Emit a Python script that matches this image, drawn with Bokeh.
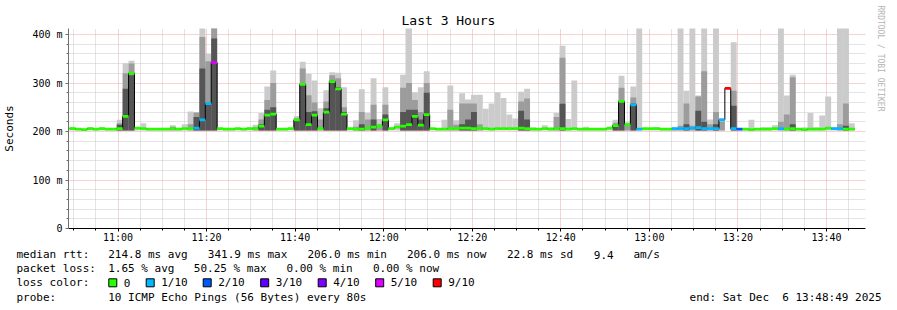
import math
from bokeh.plotting import figure
from bokeh.layouts import column
from bokeh.models import FixedTicker, Label, Range1d, Title
from bokeh.embed import file_html
from bokeh.resources import INLINE

# ---------------- data ----------------
window_start = "10:48:49"
window_end = "13:48:49"
first_sample = "10:49:03"
step_seconds = 80

median_ms = [
    206, 205, 204, 206, 205, 206, 205, 205, 206, 231,
    320, 207, 206, 205, 205, 205, 205, 206, 205, 206,
    206, 207, 224, 258, 342, 206, 205, 205, 206, 205,
    206, 206, 211, 234, 236, 205, 205, 206, 224, 297,
    214, 234, 206, 240, 303, 288, 236, 206, 205, 205,
    207, 209, 211, 224, 206, 209, 211, 214, 231, 213,
    235, 206, 205, 205, 206, 206, 207, 207, 206, 207,
    206, 205, 206, 206, 206, 206, 207, 206, 205, 205,
    206, 205, 206, 206, 205, 206, 205, 205, 205, 205,
    205, 207, 212, 262, 214, 255, 205, 206, 206, 206,
    205, 205, 206, 206, 206, 207, 208, 206, 206, 206,
    224, 289, 206, 205, 205, 204, 205, 205, 205, 206,
    206, 205, 206, 205, 204, 205, 205, 205, 207, 206,
    206, 205, 205,
]

loss_tenths = [
    0, 0, 0, 0, 0, 0, 0, 0, 0, 0,
    0, 0, 0, 0, 0, 0, 0, 0, 0, 0,
    0, 1, 1, 1, 5, 0, 0, 0, 0, 0,
    0, 0, 0, 0, 0, 0, 0, 0, 0, 0,
    0, 0, 0, 0, 0, 0, 0, 0, 0, 0,
    0, 0, 0, 0, 0, 0, 0, 0, 0, 0,
    0, 0, 0, 0, 0, 0, 0, 0, 0, 0,
    0, 0, 0, 0, 0, 0, 0, 0, 0, 0,
    0, 0, 0, 0, 0, 0, 0, 0, 0, 0,
    0, 0, 0, 0, 0, 1, 1, 0, 0, 0,
    0, 0, 1, 1, 1, 1, 1, 1, 1, 1,
    1, 9, 1, 2, 0, 0, 0, 0, 0, 0,
    1, 0, 0, 0, 0, 0, 0, 0, 0, 1,
    1, 0, 0,
]

# outer smoke (max ping), inner smoke, dense smoke; 0 = not visible
smoke_max_ms = [
    210, 207, 206, 209, 206, 209, 206, 206, 224, 341,
    346, 209, 217, 206, 206, 206, 206, 213, 206, 215,
    241, 239, 430, 360, 430, 207, 206, 206, 207, 206,
    209, 214, 238, 293, 326, 206, 206, 207, 232, 344,
    319, 305, 248, 285, 322, 321, 291, 207, 223, 287,
    238, 310, 226, 291, 209, 217, 317, 430, 281, 291,
    324, 207, 206, 224, 295, 223, 279, 266, 276, 276,
    247, 258, 281, 269, 235, 227, 282, 288, 209, 206,
    213, 209, 238, 377, 226, 305, 206, 210, 206, 206,
    206, 209, 224, 315, 219, 293, 430, 207, 207, 209,
    206, 206, 209, 430, 284, 430, 274, 430, 225, 430,
    228, 0, 384, 206, 206, 224, 206, 209, 209, 213,
    430, 274, 317, 207, 209, 238, 209, 233, 272, 209,
    430, 430, 217,
]
smoke_mid_ms = [
    0, 0, 0, 0, 0, 0, 0, 0, 217, 320,
    340, 0, 0, 0, 0, 0, 0, 210, 0, 0,
    215, 239, 395, 345, 430, 0, 0, 0, 0, 0,
    0, 209, 225, 265, 300, 0, 0, 0, 228, 330,
    275, 260, 225, 262, 316, 310, 250, 0, 210, 240,
    225, 255, 215, 255, 0, 0, 290, 300, 265, 240,
    300, 0, 0, 0, 245, 214, 258, 258, 258, 215,
    0, 0, 0, 0, 0, 0, 262, 268, 0, 0,
    0, 0, 230, 352, 0, 0, 0, 0, 0, 0,
    0, 0, 218, 290, 216, 270, 0, 0, 0, 0,
    0, 0, 207, 212, 258, 212, 272, 324, 215, 240,
    220, 0, 284, 0, 0, 0, 0, 0, 0, 0,
    220, 235, 312, 0, 0, 0, 0, 0, 0, 0,
    215, 258, 0,
]
smoke_dark_ms = [
    0, 0, 0, 0, 0, 0, 0, 0, 214, 288,
    316, 0, 0, 0, 0, 0, 0, 0, 0, 0,
    0, 230, 330, 255, 392, 0, 0, 0, 0, 0,
    0, 0, 215, 245, 250, 0, 0, 0, 226, 300,
    240, 242, 0, 248, 305, 292, 240, 0, 0, 215,
    0, 225, 0, 235, 0, 0, 240, 245, 245, 225,
    280, 0, 0, 0, 0, 0, 215, 225, 240, 0,
    0, 0, 0, 0, 0, 0, 243, 225, 0, 0,
    0, 0, 0, 257, 0, 0, 0, 0, 0, 0,
    0, 0, 214, 262, 0, 258, 0, 0, 0, 0,
    0, 0, 0, 0, 215, 0, 243, 220, 0, 215,
    0, 0, 253, 0, 0, 0, 0, 0, 0, 0,
    0, 0, 215, 0, 0, 0, 0, 0, 0, 0,
    0, 212, 0,
]
ping_floor_ms = 202

x_tick_minutes = [660, 680, 700, 720, 740, 760, 780, 800, 820]
x_tick_labels = ["11:00", "11:20", "11:40", "12:00", "12:20", "12:40", "13:00", "13:20", "13:40"]
y_tick_values = [0, 100, 200, 300, 400]
y_tick_labels = ["0", "100 m", "200 m", "300 m", "400 m"]

loss_labels = ["0", "1/10", "2/10", "3/10", "4/10", "5/10", "9/10"]
loss_colors = ["#26ff00", "#00b8ff", "#0059ff", "#5e00ff", "#7e00ff", "#dd00ff", "#ff0000"]
loss_bucket = {0: 0, 1: 1, 2: 2, 3: 3, 4: 4, 5: 5, 6: 5, 7: 5, 8: 5, 9: 6, 10: 6}

stats_rtt = ["214.8 ms avg", "341.9 ms max", "206.0 ms min", "206.0 ms now", "22.8 ms sd", "9.4", "am/s"]
stats_loss = ["1.65 % avg", "50.25 % max", "0.00 % min", "0.00 % now"]
probe_text = "10 ICMP Echo Pings (56 Bytes) every 80s"
end_text = ["end: Sat Dec", "6 13:48:49 2025"]
title_text = "Last 3 Hours"
credit_text = "RRDTOOL / TOBI OETIKER"

# ---------------- chart ----------------
def hm(s):
    h, m, sec = (int(v) for v in s.split(":"))
    return h * 60 + m + sec / 60.0

t_start, t_end, t0 = hm(window_start), hm(window_end), hm(first_sample)
step = step_seconds / 60.0
n = len(median_ms)
left = [t0 + i * step for i in range(n)]
right = [l + step for l in left]

MONO = "DejaVu Sans Mono"
TOP_H = 246
FL, FR = 67, 867   # frame left / right on the canvas

p = figure(width=897, height=TOP_H, output_backend="svg", toolbar_location=None,
           x_range=Range1d(t_start, t_end), y_range=Range1d(0, 412.4),
           min_border_left=FL, min_border_right=897 - FR, min_border_top=28,
           min_border_bottom=TOP_H - 228)
p.outline_line_color = None
p.background_fill_color = "white"
p.border_fill_color = "white"

p.title.text = title_text
p.title.align = "left"
p.title.offset = 333
p.title.standoff = 2
p.title.text_font = MONO
p.title.text_font_size = "13px"
p.title.text_font_style = "normal"
p.title.text_color = "#000000"

p.add_layout(Title(text=credit_text, align="left", offset=-23, text_font=MONO, text_font_size="8px",
                   text_font_style="normal", text_color="#b4b4b4", standoff=21), "right")

x_minor = [m for m in range(650, 830, 5) if m not in x_tick_minutes]
y_minor = [v for v in range(0, 420, 20) if v not in y_tick_values]
xt = FixedTicker(ticks=x_tick_minutes, minor_ticks=x_minor)
yt = FixedTicker(ticks=y_tick_values, minor_ticks=y_minor)

p.xaxis.ticker = xt
p.yaxis.ticker = yt
p.xgrid.ticker = xt
p.ygrid.ticker = yt
p.xaxis.major_label_overrides = {t: s for t, s in zip(x_tick_minutes, x_tick_labels)}
p.yaxis.major_label_overrides = {t: s for t, s in zip(y_tick_values, y_tick_labels)}

for g in (p.xgrid, p.ygrid):
    g.grid_line_color = "#eea4a4"
    g.grid_line_dash = "1 1"
    g.minor_grid_line_color = "#c8c8c8"
    g.minor_grid_line_dash = "1 1"

for ax, col in ((p.xaxis, "#000000"), (p.yaxis, "#6e6e6e")):
    ax.axis_line_color = col
    ax.major_tick_line_color = col
    ax.minor_tick_line_color = col
    ax.major_tick_in = 0
    ax.major_tick_out = 3
    ax.minor_tick_in = 0
    ax.minor_tick_out = 2
    ax.major_label_text_font = MONO
    ax.major_label_text_font_size = "10px"
    ax.major_label_text_color = "#000000"
p.xaxis.major_label_standoff = 0
p.yaxis.major_label_standoff = 3
p.yaxis.axis_label = "Seconds"
p.yaxis.axis_label_text_font = MONO
p.yaxis.axis_label_text_font_size = "11px"
p.yaxis.axis_label_text_font_style = "normal"
p.yaxis.axis_label_text_color = "#000000"
p.yaxis.axis_label_standoff = 13

# smoke
for vals, color in ((smoke_max_ms, "#cbcbcb"), (smoke_mid_ms, "#9c9c9c"), (smoke_dark_ms, "#555555")):
    idx = [i for i in range(n) if vals[i] > ping_floor_ms]
    p.quad(left=[left[i] for i in idx], right=[right[i] for i in idx],
           bottom=ping_floor_ms, top=[vals[i] for i in idx],
           fill_color=color, line_color=None)

# median step line
p.step(x=left + [right[-1]], y=median_ms + [median_ms[-1]], mode="after",
       line_color="#000000", line_width=1)

# loss-coloured median marks
half = 2.8
p.quad(left=left, right=right,
       bottom=[m - half for m in median_ms], top=[m + half for m in median_ms],
       fill_color=[loss_colors[loss_bucket[l]] for l in loss_tenths], line_color=None)

# ---------------- legend / statistics block (canvas pixel coordinates) ----------------
q = figure(width=897, height=310 - TOP_H, output_backend="svg", toolbar_location=None,
           x_range=Range1d(0, 897), y_range=Range1d(310, TOP_H),
           min_border_left=0, min_border_right=0, min_border_top=0, min_border_bottom=0,
           x_axis_type=None, y_axis_type=None)
q.grid.visible = False
q.outline_line_color = None
q.background_fill_color = "white"
q.border_fill_color = "white"

if "frame_align" in q.properties():
    q.frame_align = False
    p.frame_align = False
else:
    # frames get aligned with the chart: map the aligned frame onto canvas pixels
    q.x_range = Range1d(FL, FR)
    q.min_border_left = FL
    q.min_border_right = 897 - FR


def lab(text, X, Y, align="left"):
    q.add_layout(Label(x=X, y=Y, text=text, text_font=MONO, text_font_size="11px",
                       text_color="#000000", text_align=align, text_baseline="middle"))


Y1, Y2, Y3, Y4 = 254, 268.3, 282.3, 296.7
lab("median rtt:", 16, Y1)
for s, X in zip(stats_rtt, [107.7, 207.3, 306.9, 406.5, 506.4, 593.3, 633.0]):
    lab(s, X, Y1)
lab("packet loss:", 16, Y2)
for s, X in zip(stats_loss, [107.7, 193.3, 286.0, 372.5]):
    lab(s, X, Y2)
lab("loss color:", 16, Y3)
sw_x = [108.3, 145.7, 202.7, 260.2, 317.7, 375.2, 432.7]
q.quad(left=sw_x, right=[x + 8 for x in sw_x], top=[Y3 - 4] * len(sw_x), bottom=[Y3 + 4] * len(sw_x),
       fill_color=loss_colors, line_color="#000000", line_width=1)
for s, X in zip(loss_labels, sw_x):
    lab(s, X + 15, Y3)
lab("probe:", 16, Y4)
lab(probe_text, 107.7, Y4)
lab(end_text[0], 768.5, Y4, align="right")
lab(end_text[1], 881, Y4, align="right")

layout = column(p, q, spacing=0)
open("out.html", "w").write(file_html(layout, INLINE))
